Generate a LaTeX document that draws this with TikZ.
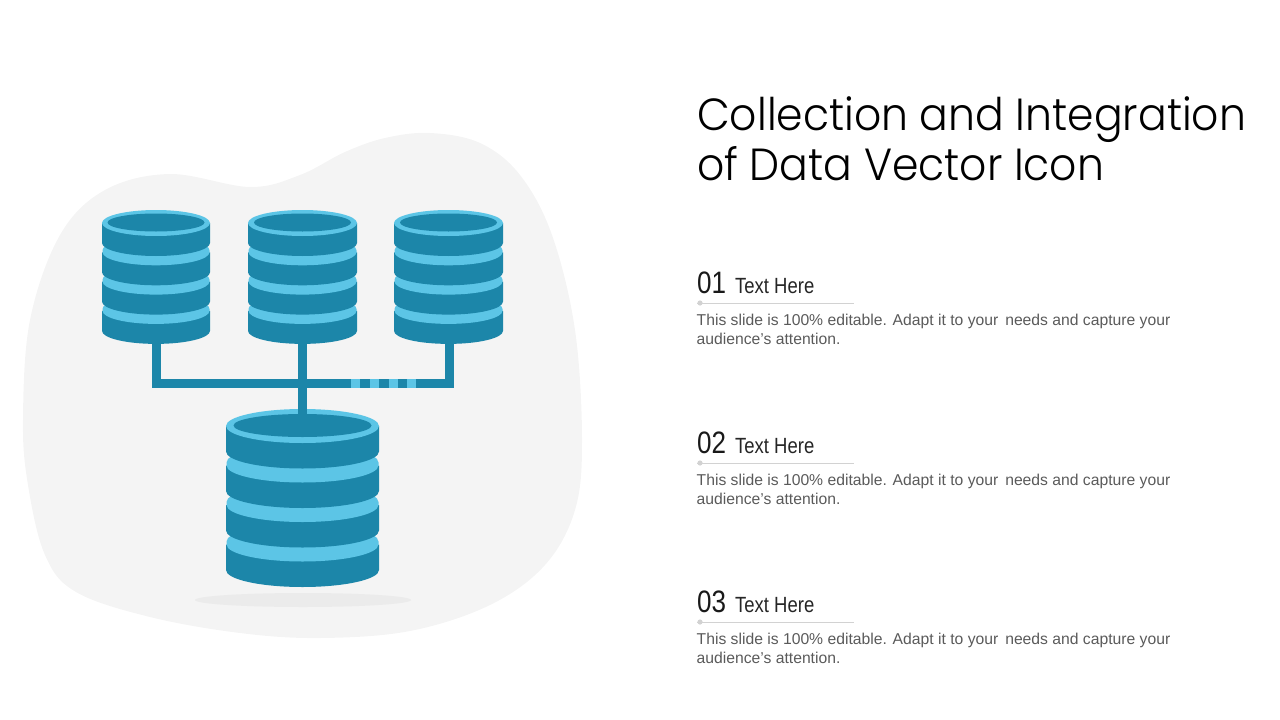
\documentclass[tikz,border=0pt]{standalone}
\usepackage{fontspec}
\setmainfont{Liberation Sans}
\newfontfamily\titlefont[FakeStretch=0.945]{Poppins Light}
\newfontfamily\numfont[FakeStretch=0.84]{Liberation Sans}
\definecolor{dbdark}{HTML}{1C86A9}
\definecolor{dblight}{HTML}{5CC5E6}
\definecolor{blobgray}{HTML}{F4F4F4}
\definecolor{shadowgray}{HTML}{EBEBEB}
\definecolor{rulegray}{HTML}{D2D2D2}
\definecolor{bodygray}{HTML}{5A5A5A}
\tikzset{
  link/.style={draw=dbdark, line width=9pt},
  titletext/.style={anchor=base west, inner sep=0pt, text=black, font=\titlefont\fontsize{45}{50}\selectfont},
  numtext/.style={anchor=base west, inner sep=0pt, text=black!90, font=\numfont\fontsize{31}{36}\selectfont},
  headtext/.style={anchor=base west, inner sep=0pt, text=black!85, font=\numfont\fontsize{22}{26}\selectfont},
  bodytext/.style={anchor=base west, inner sep=0pt, text=bodygray, font=\fontsize{15.7}{19}\selectfont},
}
% #1 centre x, #2 top centre y, #3 rx, #4 ry, #5 step, #6 side height, #7 inner rx, #8 inner ry, #9 band tip
\newcommand{\dbstack}[9]{
  \foreach \i in {3,2,1,0} {
    \fill[dbdark] (#1-#3,#2+\i*#5) -- (#1-#3,#2+\i*#5+#6) arc[start angle=180, end angle=0, x radius=#3, y radius=#4]
      -- (#1+#3,#2+\i*#5) -- cycle;
    \ifnum\i>0
      \fill[dblight] (#1-#3+.5,#2+\i*#5-#9) -- (#1-#3+.5,#2+\i*#5) arc[start angle=180, end angle=0, x radius=#3-.5, y radius=#4]
        -- (#1+#3-.5,#2+\i*#5-#9) arc[start angle=0, end angle=-180, x radius=#3-.5, y radius=#4] -- cycle;
    \else
      \fill[dblight] (#1,#2) ellipse[x radius=#3, y radius=#4];
    \fi
  }
  \fill[dbdark] (#1,#2-.5) ellipse[x radius=#7, y radius=#8];
}
\begin{document}
\begin{tikzpicture}[x=1pt,y=-1pt]
\useasboundingbox (0,0) rectangle (1280,720);
\fill[blobgray] plot[smooth cycle, tension=.6] coordinates {(23,420) (30,320) (60,235) (105,190) (170,174) (250,187) (300,175) (345,152) (385,138) (430,133) (480,143) (520,175) (552,235) (575,330) (582,440) (575,510) (545,565) (490,605) (410,631) (320,638) (240,633) (150,617) (76,592) (45,555) (28,485)};
\fill[shadowgray] (303,600) ellipse[x radius=108, y radius=7];
\coordinate (dbleft) at (156.5,340);
\coordinate (dbmid) at (302.5,340);
\coordinate (dbright) at (449,340);
\coordinate (junction) at (302.5,383.5);
\coordinate (dbbig) at (302.5,414);
\coordinate (stripestart) at (351,383.5);
\coordinate (stripeend) at (417,383.5);
\dbstack{156}{223}{54}{13}{29.3}{20}{48.5}{9}{2}
\dbstack{302.5}{223}{54.5}{13}{29.3}{20}{48.5}{9}{2}
\dbstack{448.5}{223}{54.5}{13}{29.3}{20}{48.5}{9}{2}
\dbstack{302.5}{426}{76.5}{17}{39.5}{25.5}{69}{11.5}{3}
\draw[link] (dbleft) |- (junction) -| (dbright);
\draw[link] (dbmid) -- (dbbig);
\draw[draw=dblight, line width=9pt, dash pattern=on 9pt off 9.8pt] (stripestart) -- (stripeend);
\node[titletext] (title1) at (697,130) {Collection and Integration};
\node[titletext] (title2) at (697,180) {of Data Vector Icon};
\foreach \n/\y in {01/0,02/160,03/319} {
  \node[numtext] (num\n) at (697,293+\y) {\n};
  \node[headtext] (head\n) at (735,293+\y) {Text Here};
  \coordinate (rulestart\n) at (697,303+\y);
  \coordinate (ruleend\n) at (854,303+\y);
  \draw[rulegray, line width=1pt] (rulestart\n) -- (ruleend\n);
  \fill[rulegray] (700,303+\y) circle (2.6);
  \node[bodytext] (bodya\n) at (696.5,325+\y) {This slide is 100\% editable. Adapt it to your\, needs and capture your};
  \node[bodytext] (bodyb\n) at (696.5,344+\y) {audience’s attention.};
}
\end{tikzpicture}
\end{document}
